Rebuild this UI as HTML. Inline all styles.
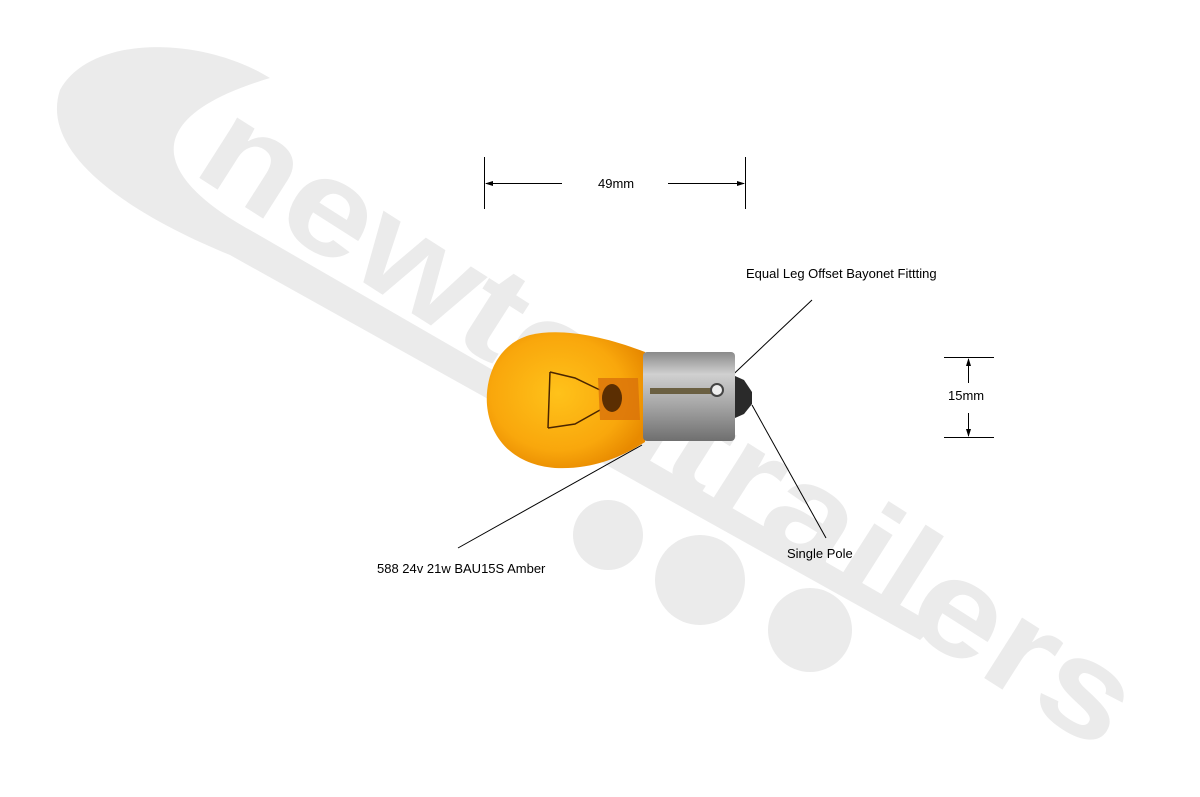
<!DOCTYPE html>
<html><head><meta charset="utf-8"><style>
html,body{margin:0;padding:0;background:#fff;}
svg{display:block}
text{font-family:"Liberation Sans",Arial,sans-serif;}
</style></head><body>
<svg width="1200" height="797" viewBox="0 0 1200 797" xmlns="http://www.w3.org/2000/svg">
<defs>
<radialGradient id="gl" cx="0.45" cy="0.45" r="0.6">
<stop offset="0" stop-color="#ffc21a"/><stop offset="0.7" stop-color="#f9a70c"/><stop offset="1" stop-color="#e88a00"/>
</radialGradient>
<linearGradient id="mt" x1="0" y1="0" x2="0" y2="1">
<stop offset="0" stop-color="#8a8a8a"/><stop offset="0.25" stop-color="#d0d0d0"/><stop offset="0.6" stop-color="#a5a5a5"/><stop offset="1" stop-color="#6f6f6f"/>
</linearGradient>
</defs>
<!-- watermark -->
<g fill="#ebebeb">
<path d="M270,78 C200,35 90,35 60,90 C40,150 120,210 230,255 L920,640 L935,625 L250,230 C160,180 130,120 270,78 Z"/>
<circle cx="608" cy="535" r="35"/>
<circle cx="700" cy="580" r="45"/>
<circle cx="810" cy="630" r="42"/>
</g>
<text x="0" y="0" transform="translate(190,172) rotate(32.5)" font-size="135" font-weight="bold" fill="#ebebeb" textLength="1080" lengthAdjust="spacingAndGlyphs">newtontrailers</text>
<!-- dimension 49mm -->
<g stroke="#000" stroke-width="1" fill="none">
<line x1="484.5" y1="157" x2="484.5" y2="209"/>
<line x1="745.5" y1="157" x2="745.5" y2="209"/>
<line x1="486" y1="183.5" x2="562" y2="183.5"/>
<line x1="668" y1="183.5" x2="744" y2="183.5"/>
<line x1="944" y1="357.5" x2="994" y2="357.5"/>
<line x1="944" y1="437.5" x2="994" y2="437.5"/>
<line x1="968.5" y1="359" x2="968.5" y2="383"/>
<line x1="968.5" y1="413" x2="968.5" y2="436"/>
<line x1="812" y1="300" x2="722" y2="385"/>
<line x1="752" y1="405" x2="826" y2="538"/>
<line x1="642" y1="445" x2="458" y2="548"/>
</g>
<g fill="#000">
<polygon points="485,183.5 493,181 493,186"/>
<polygon points="745,183.5 737,181 737,186"/>
<polygon points="968.5,358 966,366 971,366"/>
<polygon points="968.5,437 966,429 971,429"/>
</g>
<text x="598" y="188" font-size="13">49mm</text>
<text x="948" y="400" font-size="13">15mm</text>
<text x="746" y="278" font-size="13">Equal Leg Offset Bayonet Fittting</text>
<text x="787" y="558" font-size="13">Single Pole</text>
<text x="377" y="573" font-size="13">588 24v 21w BAU15S Amber</text>
<!-- bulb -->
<path d="M645,352 C600,335 560,328 530,335 C495,345 485,380 487,405 C490,440 515,465 555,468 C595,470 625,455 645,442 Z" fill="url(#gl)"/>
<rect x="643" y="352" width="92" height="89" rx="4" fill="url(#mt)"/>
<rect x="650" y="388" width="70" height="6" fill="#4a3a10" opacity="0.7"/>
<circle cx="717" cy="390" r="6" fill="#eee" stroke="#444" stroke-width="2"/>
<path d="M735,376 L744,380 L752,392 L752,404 L744,414 L735,418 Z" fill="#2a2a2a"/>
<path d="M550,372 L548,428 M550,372 L575,378 L600,390 M548,428 L575,424 L600,410" stroke="#4a2500" stroke-width="1.5" fill="none"/>
<path d="M598,378 L638,378 L640,420 L600,420 Z" fill="#d9720a" opacity="0.8"/>
<ellipse cx="612" cy="398" rx="10" ry="14" fill="#3a1a00" opacity="0.8"/>
</svg>
</body></html>
